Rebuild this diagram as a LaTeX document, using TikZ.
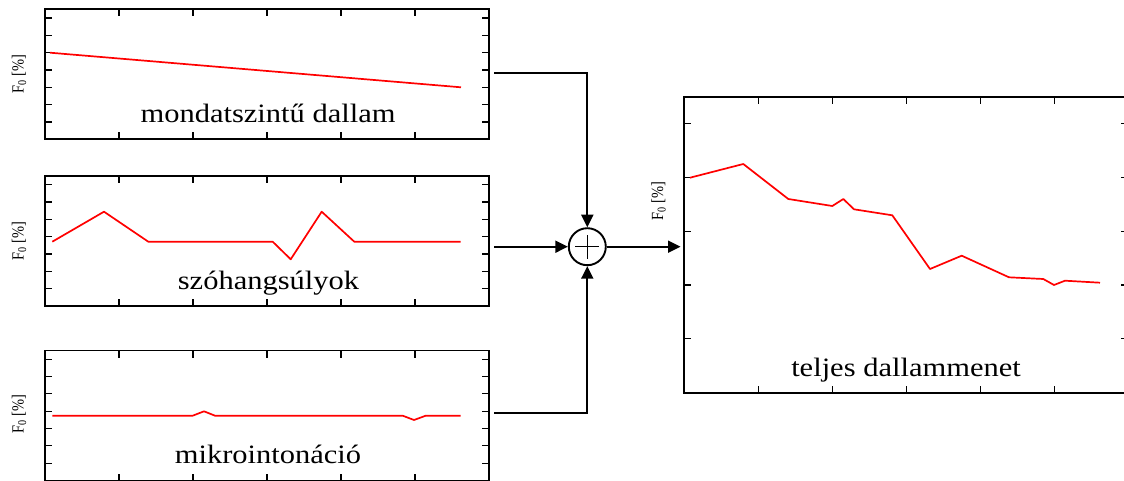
\documentclass[tikz,border=0pt]{standalone}
\usepackage{fontspec}
\setmainfont{Liberation Serif}
\usetikzlibrary{arrows.meta}
\begin{document}
\begin{tikzpicture}[x=1pt,y=-1pt,
  plotframe/.style={line width=1.9pt},
  tickmark/.style={line width=1.2pt},
  redcurve/.style={red, line width=1.7pt, line join=round},
  conn/.style={line width=1.9pt},
  arr/.style={conn, -{Triangle[length=12.5pt,width=12pt]}},
  plottitle/.style={anchor=base, inner sep=0pt, font=\fontsize{30.5}{36}\selectfont},
  ylab/.style={rotate=90, inner sep=0pt, font=\fontsize{17}{20}\selectfont},
  % small panel: 444 x 130 frame with inward ticks
  smallpanel/.pic={
    \draw[plotframe] (0,0) rectangle (444,130);
    \foreach \i in {1,...,5} {
      \draw[tickmark] (74*\i,0) -- ++(0,7);
      \draw[tickmark] (74*\i,130) -- ++(0,-7);
    }
    \foreach \k in {0,...,6} {
      \draw[tickmark] (0,8.67+17.33*\k) -- ++(7,0);
      \draw[tickmark] (444,8.67+17.33*\k) -- ++(-7,0);
    }
  },
  % large panel: 444 x 296 frame with inward ticks
  largepanel/.pic={
    \draw[plotframe] (0,0) rectangle (444,296);
    \foreach \i in {1,...,5} {
      \draw[tickmark] (74*\i,0) -- ++(0,7);
      \draw[tickmark] (74*\i,296) -- ++(0,-7);
    }
    \foreach \k in {0,...,4} {
      \draw[tickmark] (0,26.9+53.8*\k) -- ++(7,0);
      \draw[tickmark] (444,26.9+53.8*\k) -- ++(-7,0);
    }
  },
]
\useasboundingbox (0,0) rectangle (1124,481);
\clip (0,0) rectangle (1124,481);

% three component panels
\pic at (45,9.3) {smallpanel};
\pic at (45,176) {smallpanel};
\pic at (45,350.5) {smallpanel};

% result panel
\pic at (684.3,96.7) {largepanel};

% axis labels
\node[ylab] (l1) at (19,74.3) {\scalebox{0.85}[1]{F\textsubscript{0} [\%]}};
\node[ylab] (l2) at (19,241.5) {\scalebox{0.85}[1]{F\textsubscript{0} [\%]}};
\node[ylab] (l3) at (19,414) {\scalebox{0.85}[1]{F\textsubscript{0} [\%]}};
\node[ylab] (l4) at (658.5,201) {\scalebox{0.85}[1]{F\textsubscript{0} [\%]}};

% contours
\draw[redcurve] (50,52.7) -- (461,87.3);
\draw[redcurve] (52.3,241.7) -- (104,211.7) -- (148.3,241.7) -- (272.7,241.7)
  -- (290.7,259.3) -- (321.7,211.7) -- (354.3,241.7) -- (460.7,241.7);
\draw[redcurve] (52.3,415.7) -- (192.7,415.7) -- (204,411.3) -- (215,415.7)
  -- (402.7,415.7) -- (414,420) -- (425.7,415.7) -- (460.7,415.7);
\draw[redcurve] (690,177.7) -- (743.3,164) -- (788.3,199) -- (832.3,206)
  -- (843.3,199) -- (854,209.3) -- (892.3,215.3) -- (930,269) -- (961.7,255.7)
  -- (1009,277.3) -- (1043.3,279) -- (1054,285) -- (1065,280.7) -- (1100,282.7);

% panel titles
\node[plottitle] (t1) at (268,122.7) {\scalebox{1}[0.87]{mondatszintű dallam}};
\node[plottitle] (t2) at (268.5,289.5) {\scalebox{1}[0.87]{szóhangsúlyok}};
\node[plottitle] (t3) at (268,463.3) {\scalebox{1}[0.87]{mikrointonáció}};
\node[plottitle] (t4) at (906,376.7) {\scalebox{1}[0.87]{teljes dallammenet}};

% summing junction
\node[circle, draw, line width=1.9pt, minimum size=37pt, inner sep=0pt] (sum) at (587.3,246.7) {};
\draw[line width=1.2pt] ([xshift=-12pt]sum.center) -- ([xshift=12pt]sum.center);
\draw[line width=1.2pt] ([yshift=-12pt]sum.center) -- ([yshift=12pt]sum.center);

% connectors
\coordinate (o1) at (494,72.7);
\coordinate (o2) at (494,246.7);
\coordinate (o3) at (494,412.7);
\coordinate (res) at (680.5,246.7);
\draw[arr] (o1) -| (sum.north);
\draw[arr] (o2) -- (sum.west);
\draw[arr] (o3) -| (sum.south);
\draw[arr] (sum.east) -- (res);
\end{tikzpicture}
\end{document}
